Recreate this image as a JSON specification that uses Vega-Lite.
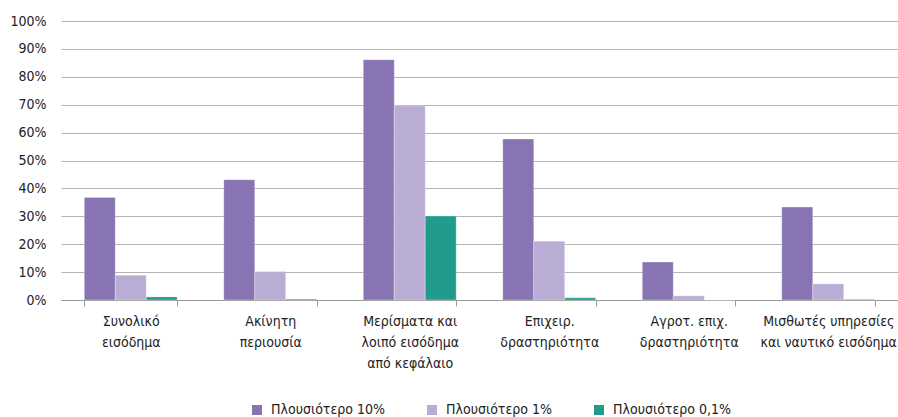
{
  "$schema": "https://vega.github.io/schema/vega-lite/v6.json",
  "width": 837,
  "height": 279,
  "autosize": "none",
  "padding": {"left": 61, "top": 21, "right": 0, "bottom": 117},
  "background": "white",
  "config": {
    "font": "DejaVu Sans Condensed, DejaVu Sans, sans-serif",
    "view": {"stroke": null}
  },
  "data": {
    "values": [
      {"cat": "Συνολικό|εισόδημα", "series": "Πλουσιότερο 10%", "v": 0.367},
      {"cat": "Συνολικό|εισόδημα", "series": "Πλουσιότερο 1%", "v": 0.089},
      {"cat": "Συνολικό|εισόδημα", "series": "Πλουσιότερο 0,1%", "v": 0.011},
      {"cat": "Ακίνητη|περιουσία", "series": "Πλουσιότερο 10%", "v": 0.431},
      {"cat": "Ακίνητη|περιουσία", "series": "Πλουσιότερο 1%", "v": 0.102},
      {"cat": "Ακίνητη|περιουσία", "series": "Πλουσιότερο 0,1%", "v": 0.003},
      {"cat": "Μερίσματα και|λοιπό εισόδημα|από κεφάλαιο", "series": "Πλουσιότερο 10%", "v": 0.861},
      {"cat": "Μερίσματα και|λοιπό εισόδημα|από κεφάλαιο", "series": "Πλουσιότερο 1%", "v": 0.696},
      {"cat": "Μερίσματα και|λοιπό εισόδημα|από κεφάλαιο", "series": "Πλουσιότερο 0,1%", "v": 0.301},
      {"cat": "Επιχειρ.|δραστηριότητα", "series": "Πλουσιότερο 10%", "v": 0.577},
      {"cat": "Επιχειρ.|δραστηριότητα", "series": "Πλουσιότερο 1%", "v": 0.211},
      {"cat": "Επιχειρ.|δραστηριότητα", "series": "Πλουσιότερο 0,1%", "v": 0.008},
      {"cat": "Αγροτ. επιχ.|δραστηριότητα", "series": "Πλουσιότερο 10%", "v": 0.136},
      {"cat": "Αγροτ. επιχ.|δραστηριότητα", "series": "Πλουσιότερο 1%", "v": 0.015},
      {"cat": "Αγροτ. επιχ.|δραστηριότητα", "series": "Πλουσιότερο 0,1%", "v": 0.0},
      {"cat": "Μισθωτές υπηρεσίες|και ναυτικό εισόδημα", "series": "Πλουσιότερο 10%", "v": 0.333},
      {"cat": "Μισθωτές υπηρεσίες|και ναυτικό εισόδημα", "series": "Πλουσιότερο 1%", "v": 0.058},
      {"cat": "Μισθωτές υπηρεσίες|και ναυτικό εισόδημα", "series": "Πλουσιότερο 0,1%", "v": 0.002}
    ]
  },
  "mark": {"type": "bar", "stroke": "white", "strokeWidth": 0.5, "strokeOpacity": 0.6},
  "encoding": {
    "x": {
      "field": "cat",
      "type": "nominal",
      "sort": null,
      "scale": {"paddingInner": 0.334, "paddingOuter": 0.167},
      "axis": {
        "title": null,
        "labelAngle": 0,
        "labelExpr": "split(datum.label, '|')",
        "labelFontSize": 14,
        "labelColor": "#222",
        "labelLineHeight": 21,
        "labelPadding": 8,
        "tickBand": "extent",
        "tickSize": 6,
        "tickColor": "#999",
        "domainColor": "#999",
        "grid": false
      }
    },
    "xOffset": {
      "field": "series",
      "type": "nominal",
      "sort": ["Πλουσιότερο 10%", "Πλουσιότερο 1%", "Πλουσιότερο 0,1%"],
      "scale": {"paddingInner": 0, "paddingOuter": 0}
    },
    "y": {
      "field": "v",
      "type": "quantitative",
      "scale": {"domain": [0, 1]},
      "axis": {
        "title": null,
        "format": ".0%",
        "values": [0, 0.1, 0.2, 0.3, 0.4, 0.5, 0.6, 0.7, 0.8, 0.9, 1],
        "ticks": false,
        "domain": false,
        "labelPadding": 15,
        "labelFontSize": 14,
        "labelColor": "#222",
        "gridColor": "#b3b3b3",
        "gridWidth": 1
      }
    },
    "color": {
      "field": "series",
      "type": "nominal",
      "sort": ["Πλουσιότερο 10%", "Πλουσιότερο 1%", "Πλουσιότερο 0,1%"],
      "scale": {
        "domain": ["Πλουσιότερο 10%", "Πλουσιότερο 1%", "Πλουσιότερο 0,1%"],
        "range": ["#8873b3", "#b9acd5", "#219c8c"]
      },
      "legend": {
        "title": null,
        "orient": "none",
        "legendX": 189,
        "legendY": 382,
        "direction": "horizontal",
        "symbolType": "square",
        "symbolSize": 100,
        "symbolStrokeWidth": 0,
        "labelFontSize": 14,
        "labelColor": "#222",
        "labelOffset": 7,
        "columnPadding": 40
      }
    }
  }
}
